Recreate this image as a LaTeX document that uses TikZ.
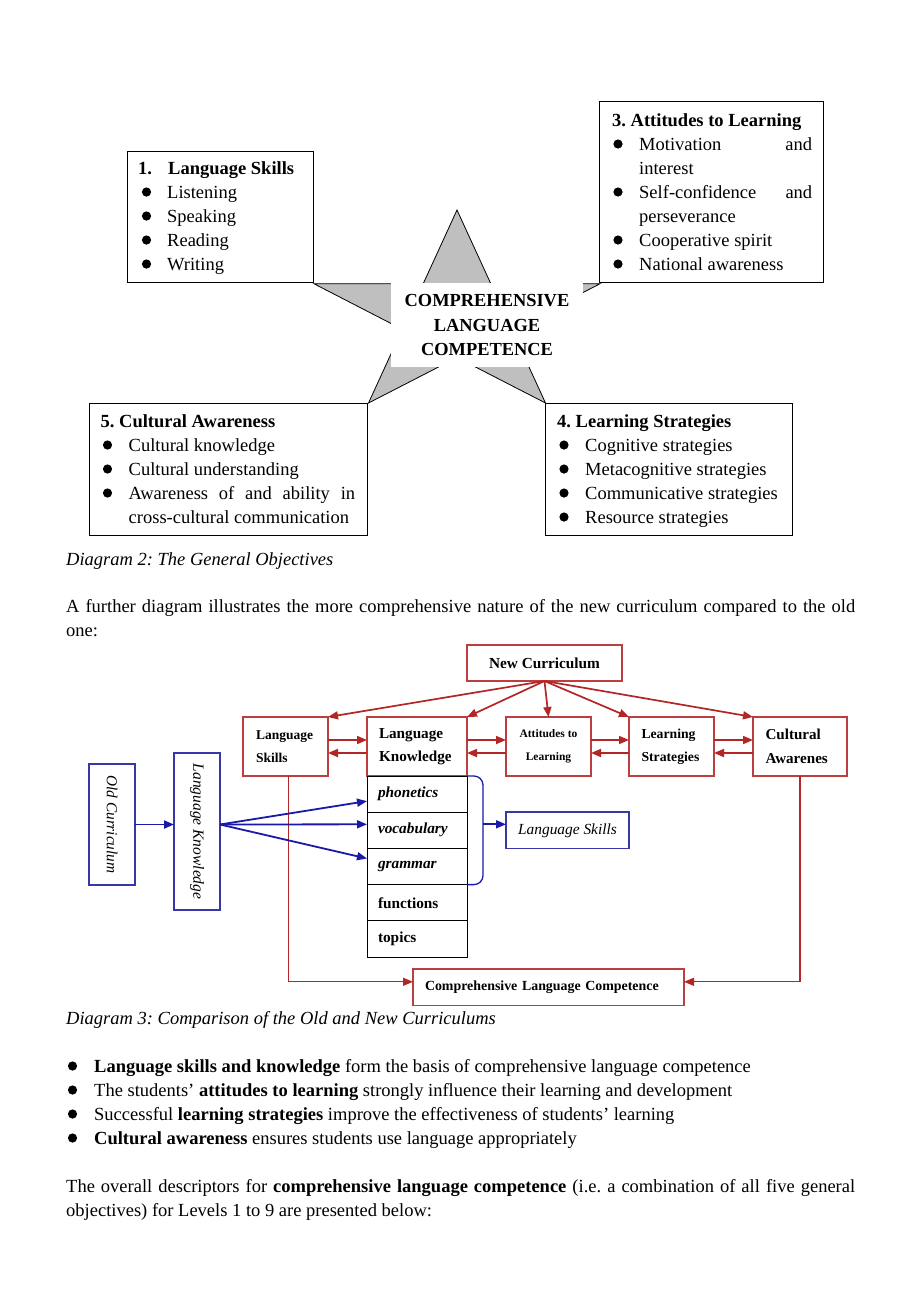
\documentclass[tikz,border=0pt]{standalone}
\usepackage{fontspec}
\setmainfont{Liberation Serif}
\usepackage{xcolor}
\usepackage{graphicx}
\usepackage{tikz}
\usetikzlibrary{arrows.meta}
\usetikzlibrary{positioning}
\definecolor{curred}{RGB}{178,38,38}
\definecolor{boxred}{RGB}{188,62,62}
\definecolor{curblue}{RGB}{25,25,170}
\definecolor{boxblue}{RGB}{55,55,165}
\newcommand{\bodyfont}{\fontsize{18.5}{24}\selectfont}
\frenchspacing

\begin{document}
\begin{tikzpicture}[x=1pt, y=-1pt,
    txt/.style={anchor=base west, inner sep=0pt, font=\bodyfont},
    bld/.style={anchor=base west, inner sep=0pt, font=\bodyfont\bfseries},
    objbox/.style={draw, fill=white, line width=1.2pt, anchor=north west},
    redbox/.style={draw=boxred, fill=white, line width=1.3pt, inner sep=0pt, outer sep=0pt},
    bluebox/.style={draw=boxblue, fill=white, line width=1.3pt, inner sep=0pt, outer sep=0pt},
    cellbox/.style={draw, fill=white, line width=1pt, minimum width=100pt, minimum height=36.2pt,
        text width=78pt, align=left, inner sep=0pt, outer sep=0pt, font=\fontsize{15.3}{18}\selectfont\bfseries},
    redarrow/.style={draw=curred, line width=1.7pt, -{Triangle[length=10pt,width=8pt]}},
    bluearrow/.style={draw=curblue, line width=1.8pt, -{Triangle[length=10pt,width=8pt]}}]
    %HALAMAN
    \fill[white] (0,0) rectangle (920,1302);
    \useasboundingbox (0,0) rectangle (920,1302);
    %BINTANG
    \coordinate (S0) at (457,210);
    \coordinate (S1) at (423.2,283.7);
    \coordinate (S2) at (313.9,283.7);
    \coordinate (S3) at (402.3,329.3);
    \coordinate (S4) at (368.5,403);
    \coordinate (S5) at (457,357.5);
    \coordinate (S6) at (545.5,403);
    \coordinate (S7) at (511.7,329.3);
    \coordinate (S8) at (600.1,283.7);
    \coordinate (S9) at (490.8,283.7);
    \filldraw[fill=gray!50, draw=black, line width=0.8pt] (S0) -- (S1) -- (S2) -- (S3) -- (S4) -- (S5) -- (S6) -- (S7) -- (S8) -- (S9) -- cycle;
    \node[fill=white, inner sep=0pt, minimum width=192pt, minimum height=84pt, align=center,
        font=\fontsize{18.4}{24.2}\selectfont\bfseries] (clc) at (487,325) {COMPREHENSIVE\\LANGUAGE\\COMPETENCE};
    %KOTAK 1
    \node[objbox, minimum width=186pt, minimum height=131pt] (skill) at (127,151) {};
    \node[bld] (sk0) at (138,174) {1.};
    \node[bld] (sk0b) at (168,174) {Language Skills};
    \fill (146.5,192) circle (4.6pt);
    \fill (146.5,216) circle (4.6pt);
    \fill (146.5,240) circle (4.6pt);
    \fill (146.5,264) circle (4.6pt);
    \node[txt] (sk1) at (167,198) {Listening};
    \node[txt] (sk2) at (167,222) {Speaking};
    \node[txt] (sk3) at (167,246) {Reading};
    \node[txt] (sk4) at (167,270) {Writing};
    %KOTAK 3
    \node[objbox, minimum width=224pt, minimum height=181pt] (attit) at (599,101) {};
    \node[bld] (at0) at (612,126) {3. Attitudes to Learning};
    \fill (618,144) circle (4.6pt);
    \fill (618,192) circle (4.6pt);
    \fill (618,240) circle (4.6pt);
    \fill (618,264) circle (4.6pt);
    \node[txt] (at1) at (639,150) {\makebox[173pt][s]{Motivation and}};
    \node[txt] (at2) at (639,174) {interest};
    \node[txt] (at3) at (639,198) {\makebox[173pt][s]{Self-confidence and}};
    \node[txt] (at4) at (639,222) {perseverance};
    \node[txt] (at5) at (639,246) {Cooperative spirit};
    \node[txt] (at6) at (639,270) {National awareness};
    %KOTAK 5
    \node[objbox, minimum width=278pt, minimum height=132pt] (cultur) at (89,403) {};
    \node[bld] (cu0) at (100.5,427) {5. Cultural Awareness};
    \fill (107.5,445) circle (4.6pt);
    \fill (107.5,469) circle (4.6pt);
    \fill (107.5,493) circle (4.6pt);
    \node[txt] (cu1) at (128.5,451) {Cultural knowledge};
    \node[txt] (cu2) at (128.5,475) {Cultural understanding};
    \node[txt] (cu3) at (128.5,499) {\makebox[226.5pt][s]{Awareness of and ability in}};
    \node[txt] (cu4) at (128.5,523) {cross-cultural communication};
    %KOTAK 4
    \node[objbox, minimum width=247pt, minimum height=132pt] (strat) at (545,403) {};
    \node[bld] (st0) at (557,427) {4. Learning Strategies};
    \fill (564,445) circle (4.6pt);
    \fill (564,469) circle (4.6pt);
    \fill (564,493) circle (4.6pt);
    \fill (564,517) circle (4.6pt);
    \node[txt] (st1) at (585,451) {Cognitive strategies};
    \node[txt] (st2) at (585,475) {Metacognitive strategies};
    \node[txt] (st3) at (585,499) {Communicative strategies};
    \node[txt] (st4) at (585,523) {Resource strategies};
    %TEKS
    \node[txt, font=\bodyfont\itshape] (cap2) at (66,565) {Diagram 2: The General Objectives};
    \node[txt] (par1a) at (66,612) {\makebox[789pt][s]{A further diagram illustrates the more comprehensive nature of the new curriculum compared to the old}};
    \node[txt] (par1b) at (66,636) {one:};
    %KURIKULUM BARU
    \node[redbox, minimum width=155pt, minimum height=36pt, font=\fontsize{15.3}{18}\selectfont\bfseries] (nc) at (544.5,663) {New Curriculum};
    \node[redbox, minimum width=85pt, minimum height=59pt, text width=59pt, align=left,
        font=\fontsize{13.5}{22.5}\selectfont\bfseries] (ls) at (285.5,746.5) {Language\\Skills};
    \node[redbox, minimum width=100pt, minimum height=59pt, text width=76pt, align=left,
        font=\fontsize{15.2}{23.5}\selectfont\bfseries, right=39pt of ls] (lk) {Language\\Knowledge};
    \node[redbox, minimum width=85pt, minimum height=59pt, align=center,
        font=\fontsize{11.5}{23}\selectfont\bfseries, right=39pt of lk] (att) {Attitudes to\\Learning};
    \node[redbox, minimum width=85pt, minimum height=59pt, text width=60pt, align=left,
        font=\fontsize{13.7}{23.5}\selectfont\bfseries, right=38pt of att] (lst) {Learning\\Strategies};
    \node[redbox, minimum width=94pt, minimum height=59pt, text width=69pt, align=left,
        font=\fontsize{15.1}{24}\selectfont\bfseries, right=39pt of lst] (ca) {Cultural\\Awarenes};
    %SEL
    \node[cellbox, below=0pt of lk] (phon) {\itshape phonetics};
    \node[cellbox, below=0pt of phon] (voc) {\itshape vocabulary};
    \node[cellbox, below=0pt of voc] (gram) {\itshape grammar};
    \node[cellbox, below=0pt of gram] (func) {functions};
    \node[cellbox, below=0pt of func] (topic) {topics};
    %KURIKULUM LAMA
    \node[bluebox, minimum width=46pt, minimum height=121pt, font=\fontsize{15.3}{18}\selectfont\itshape] (oc) at (112,824.5) {\rotatebox{-90}{Old Curriculum}};
    \node[bluebox, minimum width=46pt, minimum height=157pt, font=\fontsize{15.5}{18}\selectfont\itshape] (lkold) at (197,831.5) {\rotatebox{-90}{Language Knowledge}};
    \node[bluebox, minimum width=123pt, minimum height=36.6pt, font=\fontsize{15.4}{18}\selectfont\itshape, right=39pt of voc] (ls2) {Language Skills};
    \node[redbox, minimum width=271pt, minimum height=36.7pt, text width=247pt, align=left,
        font=\fontsize{13.9}{17}\selectfont\bfseries] (clc2) at (548.5,987.3) {Comprehensive Language Competence};
    %PANAH MERAH
    \draw[redarrow] (nc.south) -- (ls.north east);
    \draw[redarrow] (nc.south) -- (lk.north east);
    \draw[redarrow] (nc.south) -- (att.north);
    \draw[redarrow] (nc.south) -- (lst.north west);
    \draw[redarrow] (nc.south) -- (ca.north west);
    \draw[redarrow] ([yshift=6.5pt]ls.east) -- ([yshift=6.5pt]lk.west);
    \draw[redarrow] ([yshift=-6.5pt]lk.west) -- ([yshift=-6.5pt]ls.east);
    \draw[redarrow] ([yshift=6.5pt]lk.east) -- ([yshift=6.5pt]att.west);
    \draw[redarrow] ([yshift=-6.5pt]att.west) -- ([yshift=-6.5pt]lk.east);
    \draw[redarrow] ([yshift=6.5pt]att.east) -- ([yshift=6.5pt]lst.west);
    \draw[redarrow] ([yshift=-6.5pt]lst.west) -- ([yshift=-6.5pt]att.east);
    \draw[redarrow] ([yshift=6.5pt]lst.east) -- ([yshift=6.5pt]ca.west);
    \draw[redarrow] ([yshift=-6.5pt]ca.west) -- ([yshift=-6.5pt]lst.east);
    \draw[redarrow, line width=1.2pt] ([xshift=3pt]ls.south) |- ([yshift=5.5pt]clc2.west);
    \draw[redarrow, line width=1.2pt] (ca.south) |- ([yshift=5.5pt]clc2.east);
    %PANAH BIRU
    \coordinate (kout) at (lkold.east |- oc.east);
    \draw[bluearrow] (oc.east) -- (kout -| lkold.west);
    \draw[bluearrow] (kout) -- ([yshift=-7pt]phon.west);
    \draw[bluearrow] (kout) -- ([yshift=6pt]voc.west);
    \draw[bluearrow] (kout) -- ([yshift=8pt]gram.west);
    \draw[curblue, line width=1.3pt, rounded corners=9pt] (phon.north east) -| ([xshift=16pt]gram.south east) -- (gram.south east);
    \draw[bluearrow] ([xshift=16pt,yshift=6pt]voc.east) -- ([yshift=6pt]ls2.west);
    %TEKS BAWAH
    \node[txt, font=\bodyfont\itshape] (cap3) at (66,1024) {Diagram 3: Comparison of the Old and New Curriculums};
    \fill (72.5,1066) circle (4.6pt);
    \fill (72.5,1090) circle (4.6pt);
    \fill (72.5,1114) circle (4.6pt);
    \fill (72.5,1138) circle (4.6pt);
    \node[txt] (li1) at (94,1072) {\textbf{Language skills and knowledge} form the basis of comprehensive language competence};
    \node[txt] (li2) at (94,1096) {The students’ \textbf{attitudes to learning} strongly influence their learning and development};
    \node[txt] (li3) at (94,1120) {Successful \textbf{learning strategies} improve the effectiveness of students’ learning};
    \node[txt] (li4) at (94,1144) {\textbf{Cultural awareness} ensures students use language appropriately};
    \node[txt] (par2a) at (66,1192) {\makebox[789pt][s]{The overall descriptors for \textbf{comprehensive language competence} (i.e. a combination of all five general}};
    \node[txt] (par2b) at (66,1216) {objectives) for Levels 1 to 9 are presented below:};
\end{tikzpicture}
\end{document}
